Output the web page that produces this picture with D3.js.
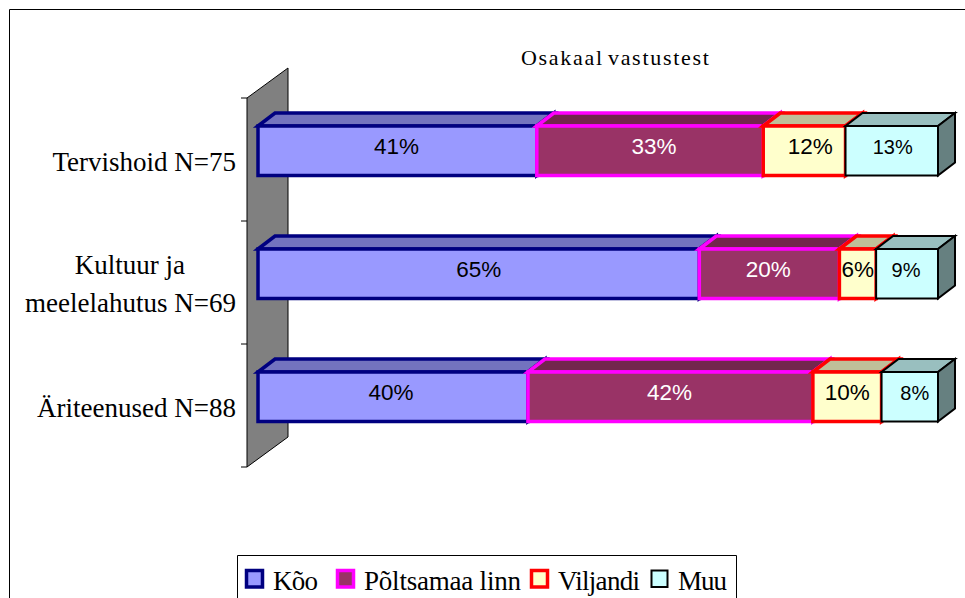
<!DOCTYPE html>
<html>
<head>
<meta charset="utf-8">
<script src="https://cdn.jsdelivr.net/npm/d3@7"></script>
<style>
html, body { margin: 0; padding: 0; background: #fff; overflow: hidden; }
svg { display: block; }
</style>
</head>
<body>
<script>
const categories = ['Tervishoid N=75', 'Kultuur ja meelelahutus N=69', 'Äriteenused N=88']
const seriesNames = ['Kõo', 'Põltsamaa linn', 'Viljandi', 'Muu']
// shares
const koo = [41.0, 64.9, 39.7]
const poltsamaa = [33.3, 20.6, 41.9]
const viljandi = [12.1, 5.4, 10.1]
const muu = [13.6, 9.1, 8.3]
// printed labels (rounded in the original, they do not always agree with the lengths)
const kooLabels = ['41%', '65%', '40%']
const poltsamaaLabels = ['33%', '20%', '42%']
const viljandiLabels = ['12%', '6%', '10%']
const muuLabels = ['13%', '9%', '8%']

const width = 965
const height = 598
const depthX = 17
const depthY = 13
const barOffset = 28
const barHeight = 49.5
const serif = '"Liberation Serif", "Times New Roman", serif'
const sans = '"Liberation Sans", Arial, sans-serif'

const styles = [
    { fill: '#9999ff', top: '#7373bf', side: '#5c5c99', stroke: '#000080', sw: 3.5, text: '#000', size: 22.5 },
    { fill: '#993366', top: '#73264d', side: '#5c1f3d', stroke: '#ff00ff', sw: 3.5, text: '#fff', size: 22.5 },
    { fill: '#ffffcc', top: '#bfbf99', side: '#99997a', stroke: '#ff0000', sw: 3.5, text: '#000', size: 22.5 },
    { fill: '#ccffff', top: '#99bfbf', side: '#668080', stroke: '#000000', sw: 2, text: '#000', size: 20 }
]
const allValues = [koo, poltsamaa, viljandi, muu]
const allLabels = [kooLabels, poltsamaaLabels, viljandiLabels, muuLabels]
// the original labels sit a few pixels off centre
const labelNudge = [[-1, 0, -2], [4, -1, -1], [6, 0, 0], [1, -1, 5]]

const svg = d3.select('body').append('svg')
    .attr('width', width)
    .attr('height', height)

const x = d3.scaleLinear().domain([0, 100]).range([258, 938])
const y = d3.scaleBand().domain(categories).range([98, 467])

// chart frame, runs off the right and bottom of the picture
svg.append('path')
    .attr('d', `M9.5,${height + 5}V9.5H${width + 5}`)
    .attr('fill', 'none')
    .attr('stroke', '#000')
    .attr('stroke-width', 1)

// side wall
const wallX = 247
const wallTop = y.range()[0]
const wallBottom = y.range()[1]
const wallX2 = 288
const wallRise = 30
svg.append('polygon')
    .attr('points', [[wallX, wallTop], [wallX2, wallTop - wallRise], [wallX2, wallBottom - wallRise], [wallX, wallBottom]].join(' '))
    .attr('fill', '#808080')
svg.append('path')
    .attr('d', `M${wallX},${wallBottom}L${wallX2},${wallBottom - wallRise}V${wallTop - wallRise}L${wallX},${wallTop}Z`)
    .attr('fill', 'none')
    .attr('stroke', '#000')
    .attr('stroke-width', 1)

// category ticks sit on the band edges
const tickYs = categories.map(d => y(d)).concat([wallBottom])
svg.selectAll('.tick')
    .data(tickYs)
    .join('line')
    .attr('class', 'tick')
    .attr('x1', wallX - 6)
    .attr('x2', wallX)
    .attr('y1', d => d)
    .attr('y2', d => d)
    .attr('stroke', '#000')

// stacked bars, left to right so each segment covers the one before
const stackData = []
categories.forEach((c, i) => {
    let sum = 0
    allValues.forEach((vals, s) => {
        stackData.push({ cat: c, i, s, v: vals[i], label: allLabels[s][i], x0: sum, x1: sum + vals[i] })
        sum += vals[i]
    })
})

const segs = svg.selectAll('.seg')
    .data(stackData)
    .join('g')
    .attr('class', 'seg')
    .attr('stroke', d => styles[d.s].stroke)
    .attr('stroke-width', d => styles[d.s].sw)
    .attr('stroke-linejoin', 'miter')

segs.append('polygon')
    .attr('fill', d => styles[d.s].top)
    .attr('points', d => {
        const t = y(d.cat) + barOffset
        return [[x(d.x0), t], [x(d.x0) + depthX, t - depthY], [x(d.x1) + depthX, t - depthY], [x(d.x1), t]].join(' ')
    })
segs.append('polygon')
    .attr('fill', d => styles[d.s].side)
    .attr('points', d => {
        const t = y(d.cat) + barOffset
        return [[x(d.x1), t], [x(d.x1) + depthX, t - depthY], [x(d.x1) + depthX, t + barHeight - depthY], [x(d.x1), t + barHeight]].join(' ')
    })
segs.append('rect')
    .attr('fill', d => styles[d.s].fill)
    .attr('x', d => x(d.x0))
    .attr('y', d => y(d.cat) + barOffset)
    .attr('width', d => x(d.x1) - x(d.x0))
    .attr('height', barHeight)

svg.selectAll('.val')
    .data(stackData)
    .join('text')
    .attr('class', 'val')
    .attr('x', d => (x(d.x0) + x(d.x1)) / 2 + labelNudge[d.s][d.i])
    .attr('y', d => y(d.cat) + barOffset + 28)
    .attr('text-anchor', 'middle')
    .attr('font-family', sans)
    .attr('font-size', d => styles[d.s].size)
    .attr('fill', d => styles[d.s].text)
    .text(d => d.label)

// category labels, the long one wraps
const catLabels = svg.selectAll('.cat')
    .data(categories)
    .join('text')
    .attr('class', 'cat')
    .attr('text-anchor', 'end')
    .attr('font-family', serif)
    .attr('font-size', 27)
    .attr('fill', '#000')
    .attr('y', d => y(d) + 73)
catLabels.filter(d => !d.startsWith('Kultuur'))
    .attr('x', 236)
    .text(d => d)
const kultuur = catLabels.filter(d => d.startsWith('Kultuur'))
    .attr('y', null)
kultuur.append('tspan').attr('x', 185).attr('y', y(categories[1]) + 53).text('Kultuur ja')
kultuur.append('tspan').attr('x', 236).attr('y', y(categories[1]) + 91).text('meelelahutus N=69')

svg.append('text')
    .attr('x', 521)
    .attr('y', 65)
    .attr('font-family', serif)
    .attr('font-size', 22)
    .attr('letter-spacing', 1.7)
    .attr('word-spacing', -3)
    .attr('fill', '#000')
    .text('Osakaal vastustest')

// legend box is cut by the bottom of the picture
const legendSwatchX = [245, 336, 530, 650]
const legendTextWidth = [45, 157, 82, 49]
const legend = svg.append('g')
legend.append('path')
    .attr('d', `M237.5,${height + 5}V555.5H736.5V${height + 5}`)
    .attr('fill', '#fff')
    .attr('stroke', '#000')
    .attr('stroke-width', 1)
const items = legend.selectAll('.item')
    .data(seriesNames)
    .join('g')
    .attr('class', 'item')
items.append('rect')
    .attr('x', (d, i) => legendSwatchX[i] + 1.5)
    .attr('y', 570.5)
    .attr('width', 16)
    .attr('height', 16.5)
    .attr('fill', (d, i) => styles[i].fill)
    .attr('stroke', (d, i) => styles[i].stroke)
    .attr('stroke-width', (d, i) => styles[i].sw)
items.append('text')
    .attr('x', (d, i) => legendSwatchX[i] + 28)
    .attr('y', 590)
    .attr('font-family', serif)
    .attr('font-size', 27)
    .attr('textLength', (d, i) => legendTextWidth[i])
    .attr('lengthAdjust', 'spacing')
    .attr('fill', '#000')
    .text(d => d)
</script>
</body>
</html>
